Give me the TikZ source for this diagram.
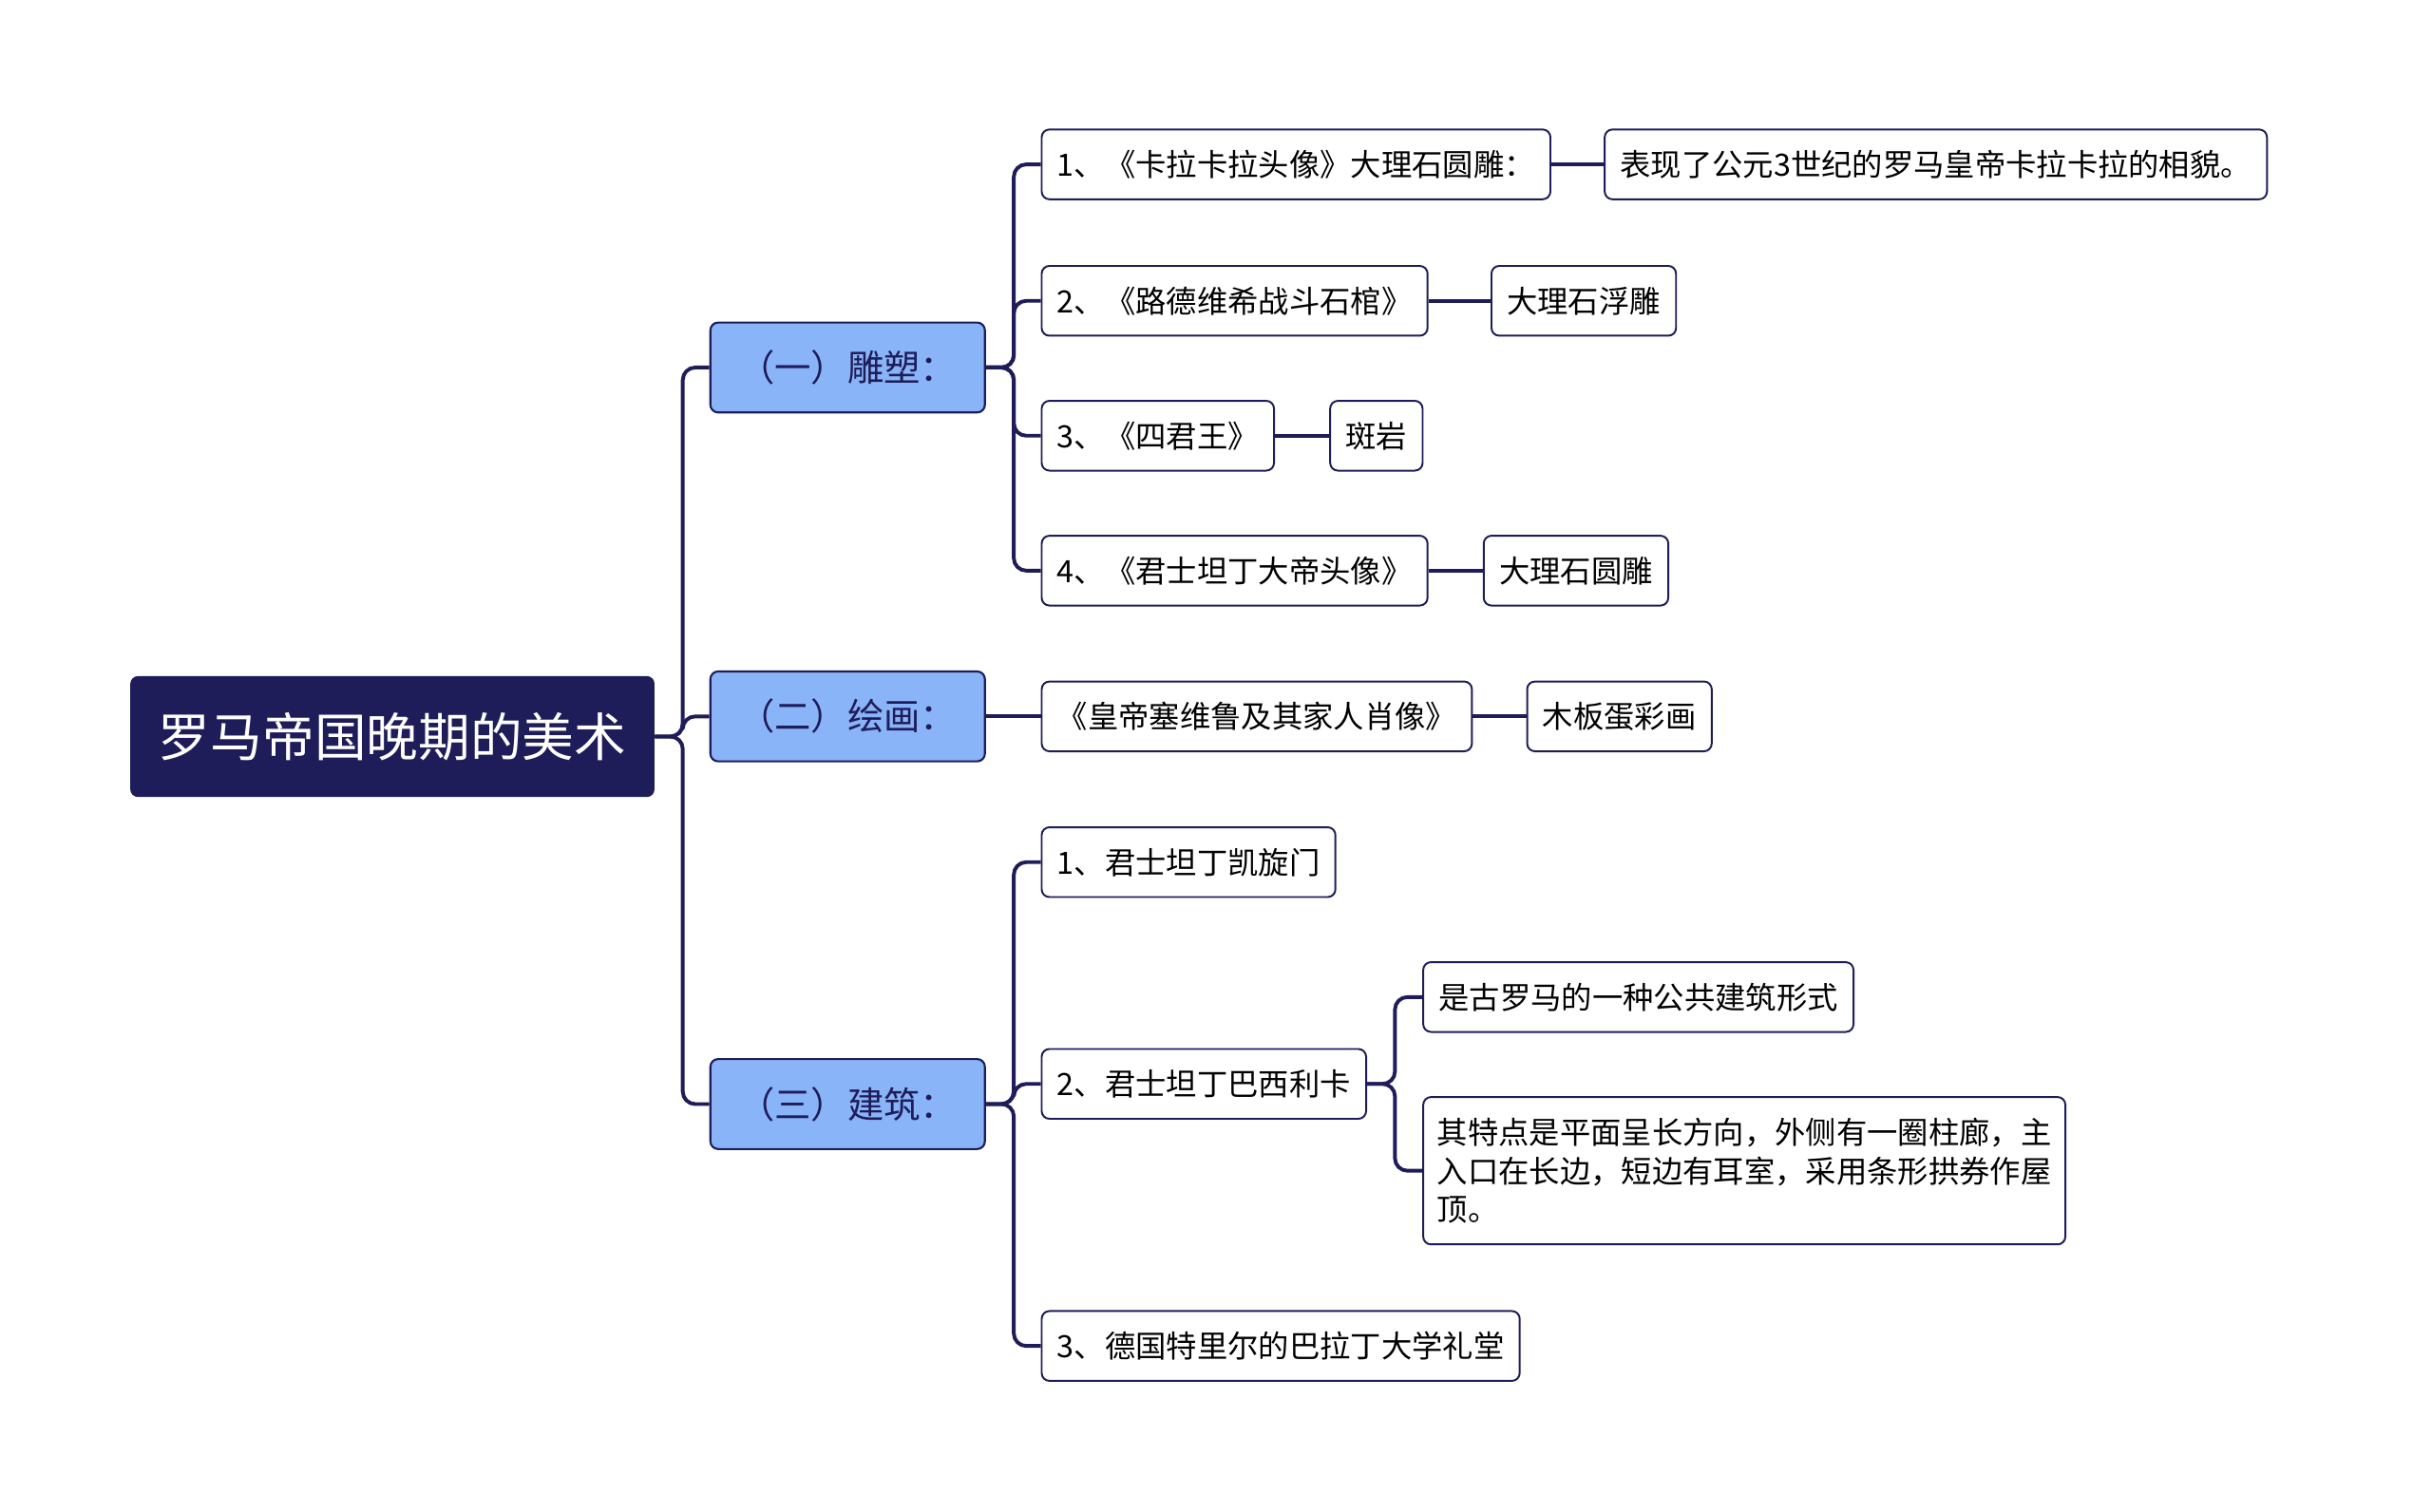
\documentclass[tikz,border=0pt]{standalone}
\usepackage{fontspec}
\setmainfont{Noto Sans CJK SC}
\begin{document}
\begin{tikzpicture}[x=1pt,y=1pt,
 rootbox/.style={draw=none,fill={rgb,255:red,30;green,29;blue,90},text=white,rounded corners=5pt,font=\fontsize{33.5}{38}\selectfont,minimum width=338pt,minimum height=78pt},
 lvbox/.style={draw={rgb,255:red,30;green,29;blue,90},line width=1.3pt,fill={rgb,255:red,138;green,180;blue,248},rounded corners=5pt,font=\fontsize{23.5}{28}\selectfont,minimum width=177pt,minimum height=58pt,text={rgb,255:red,30;green,29;blue,90}},
 leaf/.style={draw={rgb,255:red,30;green,29;blue,90},line width=1.2pt,fill=white,rounded corners=5pt,font=\fontsize{19.8}{25}\selectfont,minimum height=45pt,anchor=west,inner xsep=10pt,text=black},
 conn/.style={draw={rgb,255:red,30;green,29;blue,90},line width=2.4pt,rounded corners=8pt}]
\useasboundingbox (0,0) rectangle (1568,-975);
\node[rootbox] (root) at (253,-475) {罗马帝国晚期的美术};
\node[lvbox] (l1) at (546.5,-237) {（一）雕塑：};
\node[lvbox] (l2) at (546.5,-462) {（二）绘画：};
\node[lvbox] (l3) at (546.5,-712) {（三）建筑：};
\node[leaf] (s1) at (671,-106) {1、《卡拉卡拉头像》大理石圆雕：};
\node[leaf] (s1r) at (1034,-106) {表现了公元3世纪的罗马皇帝卡拉卡拉的相貌。};
\node[leaf] (s2) at (671,-194) {2、《路德维希战斗石棺》};
\node[leaf] (s2r) at (961,-194) {大理石浮雕};
\node[leaf] (s3) at (671,-281) {3、《四君王》};
\node[leaf] (s3r) at (857,-281) {斑岩};
\node[leaf] (s4) at (671,-368) {4、《君士坦丁大帝头像》};
\node[leaf] (s4r) at (956,-368) {大理石圆雕};
\node[leaf] (p1) at (671,-462) {《皇帝塞维鲁及其家人肖像》};
\node[leaf] (p1r) at (984,-462) {木板蛋彩画};
\node[leaf] (a1) at (671,-556) {1、君士坦丁凯旋门};
\node[leaf] (a2) at (671,-699) {2、君士坦丁巴西利卡};
\node[leaf] (a2a) at (917,-643) {是古罗马的一种公共建筑形式};
\node[leaf,text width=396pt,inner xsep=9pt,align=left,minimum height=95pt] (a2b) at (917,-755) {其特点是平面呈长方向，外侧有一圈柱廊，主\\入口在长边，短边有耳室，采用条形拱券作屋\\顶。};
\node[leaf] (a3) at (671,-868) {3、德国特里尔的巴拉丁大学礼堂};
\foreach \c in {l1,l2,l3} \draw[conn] (root.east) -- ++(18,0) |- (\c.west);
\foreach \c in {s1,s2,s3,s4} \draw[conn] (l1.east) -- ++(18,0) |- (\c.west);
\draw[conn] (l2.east) -- (p1.west);
\foreach \c in {a1,a2,a3} \draw[conn] (l3.east) -- ++(18,0) |- (\c.west);
\foreach \c in {a2a,a2b} \draw[conn] (a2.east) -- ++(18,0) |- (\c.west);
\draw[conn] (s1.east) -- (s1r.west);
\draw[conn] (s2.east) -- (s2r.west);
\draw[conn] (s3.east) -- (s3r.west);
\draw[conn] (s4.east) -- (s4r.west);
\draw[conn] (p1.east) -- (p1r.west);
\end{tikzpicture}
\end{document}
